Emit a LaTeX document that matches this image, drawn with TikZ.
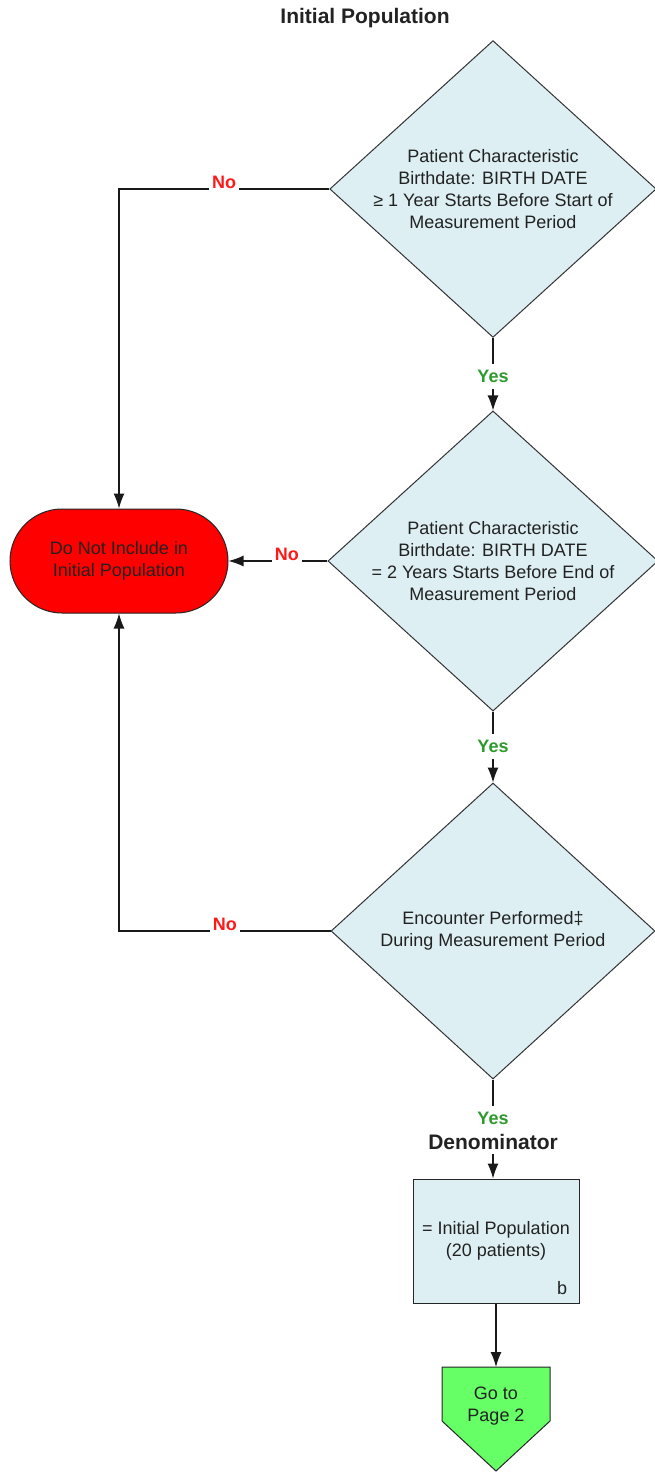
\documentclass[tikz,border=0pt]{standalone}
\usepackage{fontspec}
\setmainfont{Liberation Sans}
\usetikzlibrary{shapes.geometric,arrows.meta}
\definecolor{boxblue}{HTML}{DDEFF3}
\definecolor{stopred}{HTML}{FF0000}
\definecolor{gogreen}{HTML}{66FF66}
\definecolor{yesgreen}{HTML}{2E9A2E}
\definecolor{nored}{HTML}{FF1A1A}
\definecolor{txt}{HTML}{222222}
\begin{document}
\begin{tikzpicture}[x=1pt,y=1pt,
  every node/.style={font=\fontsize{18}{22}\selectfont, text=txt},
  dec/.style={diamond, draw=black!80, fill=boxblue, line width=1pt, minimum width=324pt, minimum height=296pt, inner sep=0pt, align=center, shape aspect=1.1},
  stopbox/.style={rectangle, draw=black!85, fill=stopred, line width=1pt, rounded corners=52pt, minimum width=218pt, minimum height=104pt, align=center},
  pbox/.style={rectangle, draw=black!85, fill=boxblue, line width=1pt, minimum width=166pt, minimum height=124pt, align=center},
  conn/.style={line width=1.2pt, draw=black!90},
  arr/.style={conn, -{Latex[length=15pt,width=11pt]}},
  yes/.style={font=\bfseries\fontsize{18}{22}\selectfont, text=yesgreen, fill=white, inner xsep=3pt, inner ysep=6pt},
  no/.style={font=\bfseries\fontsize{18}{22}\selectfont, text=nored, fill=white, inner xsep=3pt, inner ysep=2pt, yshift=7pt},
  heading/.style={font=\bfseries\fontsize{21}{25}\selectfont, text=txt},
  headfill/.style={heading, fill=white, inner xsep=2pt, inner ysep=4pt}
]
\useasboundingbox (0,0) rectangle (654,-1472);

\node[heading] (title) at (365,-18) {Initial Population};

\node[dec] (d1) at (493,-189) {Patient Characteristic\\Birthdate: BIRTH DATE\\≥ 1 Year Starts Before Start of\\Measurement Period};
\node[dec] (d2) at (493,-561) {Patient Characteristic\\Birthdate: BIRTH DATE\\= 2 Years Starts Before End of\\Measurement Period};
\node[dec] (d3) at (493,-931) {Encounter Performed‡\\During Measurement Period};

\node[stopbox] (stop) at (119,-561) {Do Not Include in\\Initial Population};

\node[pbox] (den) at (496,-1241) {= Initial Population\\(20 patients)};
\node (b) at (562,-1288) {b};

\filldraw[fill=gogreen, draw=black!85, line width=1pt] (442,-1367) -- (550,-1367) -- (550,-1421) -- (496,-1471) -- (442,-1421) -- cycle;
\coordinate (gotop) at (496,-1367);
\node (go) at (496,-1406) [align=center] {Go to\\Page 2};

% connectors
\draw[arr] (d1.west) -| node[no, pos=0.25] {No} (stop.north);
\draw[arr] (d2.west) -- node[no, pos=0.41] {No} (stop.east);
\draw[arr] (d3.west) -| node[no, pos=0.25] {No} (stop.south);

\draw[arr] (d1.south) -- node[yes, pos=0.53] {Yes} (d2.north);
\draw[arr] (d2.south) -- node[yes, pos=0.49] {Yes} (d3.north);
\draw[arr] (d3.south) -- node[yes, pos=0.39] {Yes} node[headfill, pos=0.63] {Denominator} (d3.south |- den.north);
\draw[arr] (den.south) -- (gotop);
\end{tikzpicture}
\end{document}
